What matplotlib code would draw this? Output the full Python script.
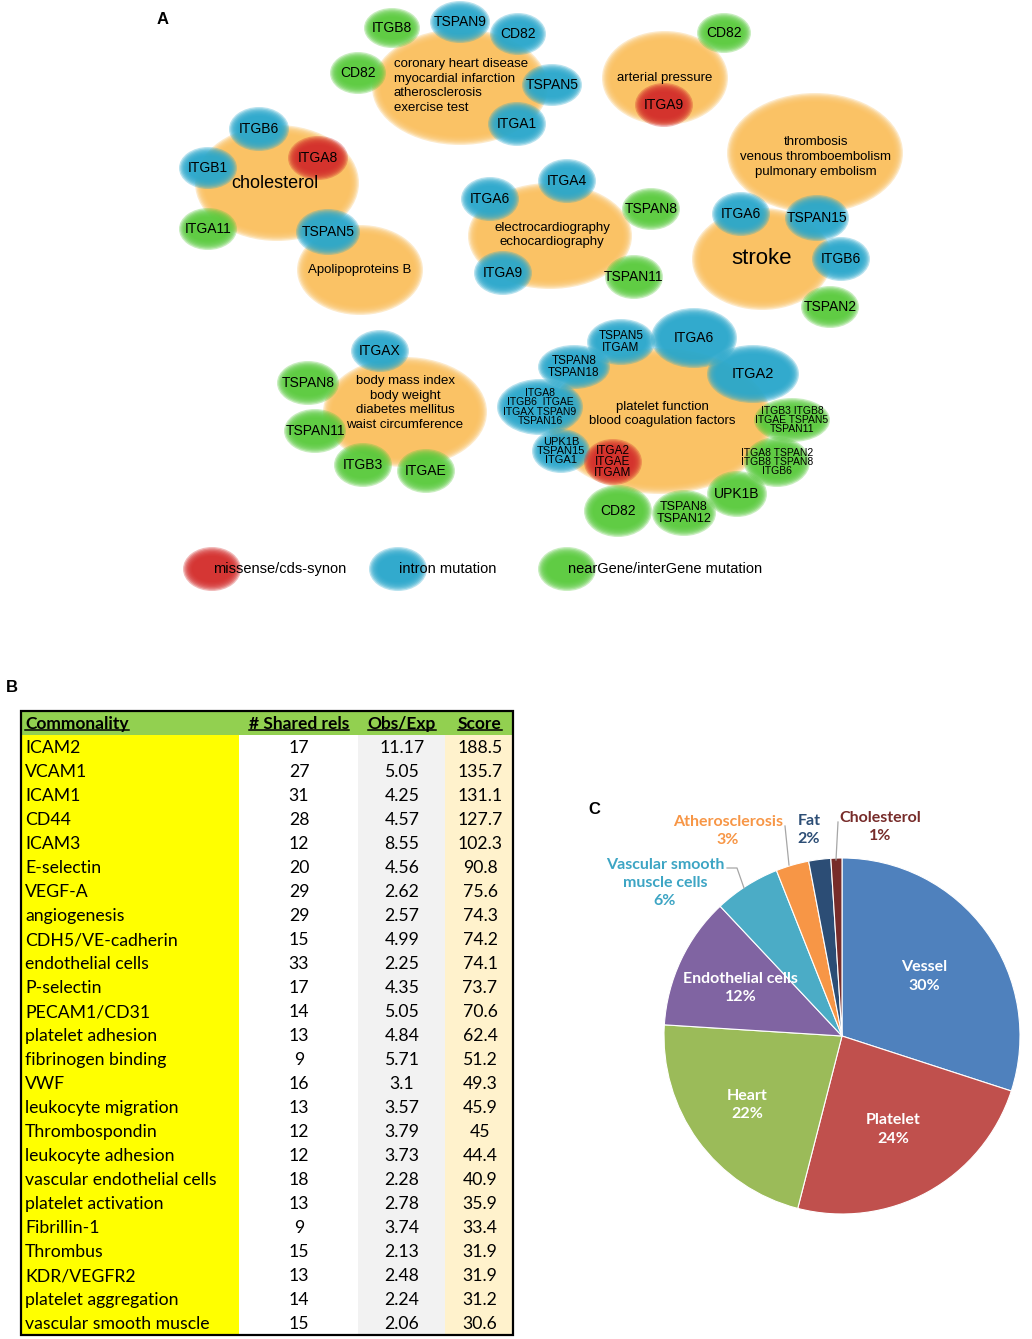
import numpy as np
import matplotlib.pyplot as plt
from matplotlib.patches import Ellipse, Rectangle

plt.rcParams['font.family'] = ['Liberation Sans', 'DejaVu Sans']
CAL = 'Lato'   # stand-in for Calibri (table + pie)

# ---- Panel A : disease bubbles ----
disease_labels = ['coronary heart disease\nmyocardial infarction\natherosclerosis\nexercise test',
                  'cholesterol', 'Apolipoproteins B', 'electrocardiography\nechocardiography',
                  'arterial pressure', 'thrombosis\nvenous thromboembolism\npulmonary embolism',
                  'stroke', 'body mass index\nbody weight\ndiabetes mellitus\nwaist circumference',
                  'platelet function\nblood coagulation factors']
disease_xy = [(460, 87), (277, 183), (360, 270), (550, 236), (665, 78), (815, 153),
              (762, 259), (405, 412), (660, 421)]
disease_r = [(83, 53), (77, 53), (58, 40), (77, 48), (58, 42), (83, 55), (65, 46), (77, 50), (107, 68)]
disease_fs = [9.5, 13, 9.5, 9.5, 9.5, 9.5, 16, 9.5, 9.5]
disease_txt = [(394, 86, 'left'), (275, 183, 'center'), None, (552, 235, 'center'), None,
               (816, 157, 'center'), (762, 259, 'center'), (405, 403, 'center'), (662, 414, 'center')]

# ---- Panel A : gene nodes (label, mutation type) ----
gene_labels = ['ITGB8', 'TSPAN9', 'CD82', 'CD82', 'TSPAN5', 'ITGA1',
               'ITGB6', 'ITGB1', 'ITGA8', 'ITGA11', 'TSPAN5',
               'ITGA4', 'ITGA6', 'ITGA9', 'TSPAN8', 'TSPAN11',
               'CD82', 'ITGA9',
               'ITGA6', 'TSPAN15', 'ITGB6', 'TSPAN2',
               'ITGAX', 'TSPAN8', 'TSPAN11', 'ITGB3', 'ITGAE',
               'TSPAN5\nITGAM', 'ITGA6', 'TSPAN8\nTSPAN18', 'ITGA2',
               'ITGA8\nITGB6  ITGAE\nITGAX TSPAN9\nTSPAN16', 'UPK1B\nTSPAN15\nITGA1',
               'ITGA2\nITGAE\nITGAM', 'ITGB3 ITGB8\nITGAE TSPAN5\nTSPAN11',
               'ITGA8 TSPAN2\nITGB8 TSPAN8\nITGB6', 'UPK1B', 'CD82', 'TSPAN8\nTSPAN12']
gene_types = ['near', 'intron', 'intron', 'near', 'intron', 'intron',
              'intron', 'intron', 'missense', 'near', 'intron',
              'intron', 'intron', 'intron', 'near', 'near',
              'near', 'missense',
              'intron', 'intron', 'intron', 'near',
              'intron', 'near', 'near', 'near', 'near',
              'intron', 'intron', 'intron', 'intron',
              'intron', 'intron', 'missense', 'near', 'near', 'near', 'near', 'near']
gene_xy = [(392, 28), (460, 22), (518, 34), (358, 73), (552, 85), (517, 124),
           (259, 129), (208, 168), (318, 158), (208, 229), (328, 232),
           (567, 181), (490, 199), (503, 273), (651, 209), (634, 277),
           (724, 33), (664, 105),
           (741, 214), (817, 218), (841, 259), (830, 307),
           (380, 351), (308, 383), (315, 431), (363, 465), (426, 471),
           (621, 342), (694, 338), (574, 367), (753, 374),
           (540, 407), (561, 451), (613, 462), (792, 420),
           (777, 462), (737, 494), (618, 511), (684, 513)]
gene_r = [(23, 15), (25, 16), (23, 16), (23, 16), (25, 16), (24, 17),
          (25, 17), (24, 16), (25, 17), (24, 16), (27, 18),
          (24, 17), (24, 17), (24, 17), (24, 16), (24, 17),
          (22, 15), (24, 17),
          (24, 17), (27, 18), (24, 17), (24, 16),
          (24, 16), (26, 17), (26, 17), (24, 17), (24, 17),
          (29, 18), (38, 25), (31, 17), (41, 24),
          (38, 23), (24, 17), (24, 18), (33, 17),
          (28, 20), (25, 18), (29, 21), (27, 18)]
gene_fs = [10] * 27 + [8.5, 10, 8.5, 10.5, 7.5, 8, 8.5, 7.5, 7.5, 10, 10, 9]

legend_labels = ['missense/cds-synon', 'intron mutation', 'nearGene/interGene mutation']
legend_types = ['missense', 'intron', 'near']

node_colors = {'missense': '#D42E2C', 'intron': '#2AA8CC', 'near': '#5ACB3E'}
disease_color = '#FAC060'

# ---- Panel B : table ----
tbl_header = ['Commonality', '# Shared rels', 'Obs/Exp', 'Score']
commonality = ['ICAM2', 'VCAM1', 'ICAM1', 'CD44', 'ICAM3', 'E-selectin', 'VEGF-A',
               'angiogenesis', 'CDH5/VE-cadherin', 'endothelial cells', 'P-selectin',
               'PECAM1/CD31', 'platelet adhesion', 'fibrinogen binding', 'VWF',
               'leukocyte migration', 'Thrombospondin', 'leukocyte adhesion',
               'vascular endothelial cells', 'platelet activation', 'Fibrillin-1',
               'Thrombus', 'KDR/VEGFR2', 'platelet aggregation', 'vascular smooth muscle']
shared_rels = [17, 27, 31, 28, 12, 20, 29, 29, 15, 33, 17, 14, 13, 9, 16, 13, 12, 12,
               18, 13, 9, 15, 13, 14, 15]
obs_exp = ['11.17', '5.05', '4.25', '4.57', '8.55', '4.56', '2.62', '2.57', '4.99', '2.25',
           '4.35', '5.05', '4.84', '5.71', '3.1', '3.57', '3.79', '3.73', '2.28', '2.78',
           '3.74', '2.13', '2.48', '2.24', '2.06']
score = ['188.5', '135.7', '131.1', '127.7', '102.3', '90.8', '75.6', '74.3', '74.2', '74.1',
         '73.7', '70.6', '62.4', '51.2', '49.3', '45.9', '45', '44.4', '40.9', '35.9',
         '33.4', '31.9', '31.9', '31.2', '30.6']

# ---- Panel C : pie ----
pie_labels = ['Vessel', 'Platelet', 'Heart', 'Endothelial cells', 'Vascular smooth\nmuscle cells',
              'Atherosclerosis', 'Fat', 'Cholesterol']
pie_values = [30, 24, 22, 12, 6, 3, 2, 1]
pie_colors = ['#4F81BD', '#C0504D', '#9BBB59', '#8064A2', '#4BACC6', '#F79646', '#2C4D75', '#772C2A']


def soft_ellipse(ax, xy, rx, ry, color, z):
    # blurred look: stack of translucent ellipses
    for off in np.linspace(5, -4, 8):
        ax.add_patch(Ellipse(xy, 2 * (rx + off), 2 * (ry + off), facecolor=color,
                             edgecolor='none', alpha=0.33, zorder=z))


fig = plt.figure(figsize=(10.32, 13.39), dpi=100)
ax = fig.add_axes([0, 0, 1, 1])
ax.set_xlim(0, 1032)
ax.set_ylim(1339, 0)
ax.axis('off')

for (x, y), (rx, ry) in zip(disease_xy, disease_r):
    soft_ellipse(ax, (x, y), rx, ry, disease_color, 1)
for (x, y), (rx, ry), t in zip(gene_xy, gene_r, gene_types):
    soft_ellipse(ax, (x, y), rx, ry, node_colors[t], 2)

for lab, (x, y), fs, tx in zip(disease_labels, disease_xy, disease_fs, disease_txt):
    ha = 'center'
    if tx is not None:
        x, y, ha = tx
    ax.text(x, y, lab, fontsize=fs, ha=ha, va='center', multialignment=ha,
            linespacing=1.32, zorder=5)
for lab, (x, y), fs in zip(gene_labels, gene_xy, gene_fs):
    ax.text(x, y, lab, fontsize=fs, ha='center', va='center', multialignment='center',
            linespacing=0.92, zorder=5)

leg_x = [212, 398, 567]
for lab, t, x in zip(legend_labels, legend_types, leg_x):
    soft_ellipse(ax, (x, 569), 24, 17, node_colors[t], 2)
    ax.text(x + 1, 569, lab, fontsize=10.5, ha='left', va='center', zorder=5)

ax.text(157, 19, 'A', fontsize=12, fontweight='bold', va='center')
ax.text(6, 688, 'B', fontsize=12, fontweight='bold', va='center')
ax.text(588, 810, 'C', fontsize=12, fontweight='bold', va='center')

# ---- table ----
col_edges = [21, 239, 358, 445, 513]
col_fill = ['#FFFF00', '#FFFFFF', '#F2F2F2', '#FFF2CC']
top, hdr_h, row_h = 711, 24, 24
n = len(commonality)
bottom = top + hdr_h + n * row_h
for i, c in enumerate(col_fill):
    ax.add_patch(Rectangle((col_edges[i], top + hdr_h), col_edges[i + 1] - col_edges[i],
                           n * row_h, facecolor=c, edgecolor='none', zorder=1))
ax.add_patch(Rectangle((col_edges[0], top), col_edges[-1] - col_edges[0], hdr_h,
                       facecolor='#92D050', edgecolor='none', zorder=1))
ax.add_patch(Rectangle((col_edges[0], top), col_edges[-1] - col_edges[0], bottom - top,
                       facecolor='none', edgecolor='black', lw=1.6, zorder=3))

col_cx = [25, 299, 402, 480]
hdr_texts = []
for i, h in enumerate(tbl_header):
    t = ax.text(col_cx[i], top + hdr_h / 2 + 1, h, fontsize=12.5, fontweight='bold', family=CAL,
                ha='left' if i == 0 else 'center', va='center', zorder=4)
    hdr_texts.append(t)

for j in range(n):
    yc = top + hdr_h + (j + 0.5) * row_h + 1
    ax.text(col_cx[0], yc, commonality[j], fontsize=12.7, family=CAL, ha='left', va='center', zorder=4)
    ax.text(col_cx[1], yc, str(shared_rels[j]), fontsize=12.7, family=CAL, ha='center', va='center', zorder=4)
    ax.text(col_cx[2], yc, obs_exp[j], fontsize=12.7, family=CAL, ha='center', va='center', zorder=4)
    ax.text(col_cx[3], yc, score[j], fontsize=12.7, family=CAL, ha='center', va='center', zorder=4)

# underline the header cells
renderer = fig.canvas.get_renderer()
inv = ax.transData.inverted()
for t in hdr_texts:
    bb = t.get_window_extent(renderer)
    (x0, y0), (x1, _) = inv.transform([(bb.x0, bb.y0), (bb.x1, bb.y1)])
    ax.plot([x0, x1], [y0 - 2, y0 - 2], color='black', lw=1.1, zorder=4)

# ---- pie ----
cx, cy, R = 842, 1036, 178
W = 2.5 * R
pax = fig.add_axes([(cx - W / 2) / 1032, (1339 - cy - W / 2) / 1339, W / 1032, W / 1339])
wedges, _ = pax.pie(pie_values, colors=pie_colors, startangle=90, counterclock=False, radius=1,
                    wedgeprops=dict(edgecolor='white', linewidth=0.8))
pax.set_xlim(-1.25, 1.25)
pax.set_ylim(-1.25, 1.25)
pax.set_aspect('equal')

def P(x, y):
    return (x - cx) / R, (cy - y) / R

pct = [f'{v}%' for v in pie_values]
inner_r = [0.57, 0.6, 0.66, 0.63]
for k in range(4):
    w = wedges[k]
    ang = np.deg2rad((w.theta1 + w.theta2) / 2)
    pax.text(inner_r[k] * np.cos(ang), inner_r[k] * np.sin(ang), f'{pie_labels[k]}\n{pct[k]}',
             color='white', fontsize=11.5, fontweight='bold', family=CAL, ha='center', va='center',
             linespacing=1.4)

outer_pos = [(665, 883), (728, 831), (809, 830), (880, 827)]
for k, (x, y) in zip(range(4, 8), outer_pos):
    pax.text(*P(x, y), f'{pie_labels[k]}\n{pct[k]}', color=pie_colors[k], fontsize=11.5,
             fontweight='bold', family=CAL, ha='center', va='center', linespacing=1.4)
pax.texts[-4].set_color('#3DA5C4')

lead = [[(727, 868), (737, 868), (744, 888)],
        [(785, 826), (789, 865)],
        [(838, 822), (836, 860)]]
for seg in lead:
    xs, ys = zip(*[P(x, y) for x, y in seg])
    pax.plot(xs, ys, color='#A6A6A6', lw=0.9)

fig.savefig('out.png', dpi=100)
